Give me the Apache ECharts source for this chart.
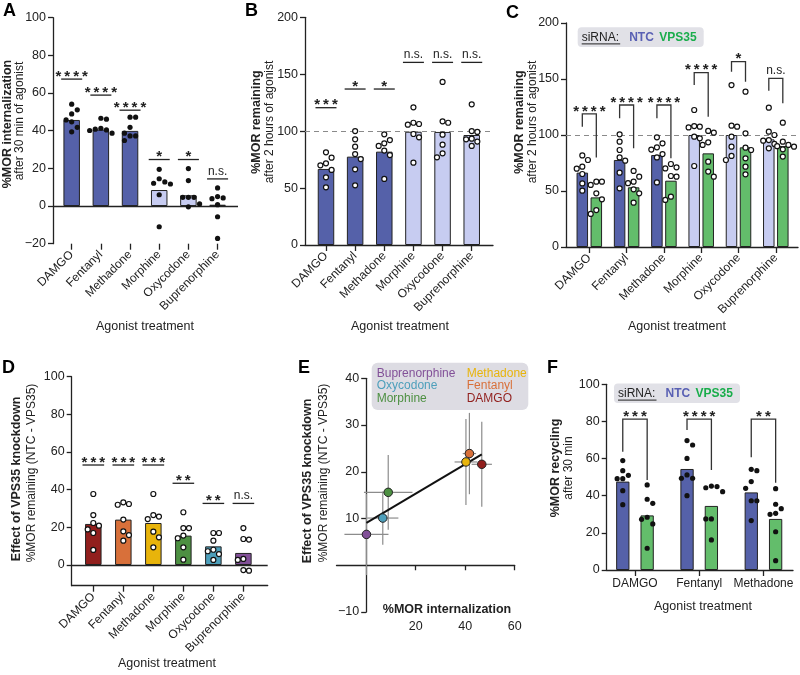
<!DOCTYPE html>
<html>
<head>
<meta charset="utf-8">
<title>MOR trafficking</title>
<script src="https://cdn.jsdelivr.net/npm/echarts@6/dist/echarts.min.js"></script>
<style>
  html, body { margin: 0; padding: 0; background: #fff; }
  #chart { width: 800px; height: 675px; }
</style>
</head>
<body>
<div id="chart"></div>
<script>
// ---- data ----
const agonists = ['DAMGO', 'Fentanyl', 'Methadone', 'Morphine', 'Oxycodone', 'Buprenorphine'];
const recyclingAgonists = ['DAMGO', 'Fentanyl', 'Methadone'];

// A: %MOR internalization after 30 min
const internalizationMean = [45.7, 40.6, 39.9, 8.5, 5.7, 0.7];
const internalizationPts = [
  [54.1, 51.1, 48.9, 45.7, 44.7, 41.8, 39.4],
  [46.6, 46.1, 41.3, 40.8, 40.4, 40.1, 38.7],
  [47.2, 47.2, 41.8, 38.7, 37.2, 37.2, 34.8],
  [19.5, 14.5, 12.8, 12.1, 11.7, 6.0, -11.0],
  [19.9, 13.5, 4.6, 4.6, 4.6, 1.1, -0.4],
  [9.6, 5.0, 4.3, 3.9, 0.7, -5.7, -17.2]
];
const internalizationSig = ['****', '****', '****', '*', '*', 'n.s.'];
const internalizationSigLevel = [67.4, 58.9, 50.9, 24.7, 24.7, 14.4];

// B: %MOR remaining after 2 h
const remainingMean = [66.8, 77.6, 82.0, 99.5, 99.3, 96.6];
const remainingPts = [
  [81.4, 76.7, 71.7, 70.0, 65.9, 59.4, 50.7],
  [100.1, 92.8, 86.4, 79.9, 75.5, 66.5, 52.4],
  [97.2, 92.2, 89.3, 87.0, 82.9, 79.0, 58.0],
  [120.9, 107.4, 106.3, 105.7, 97.5, 94.6, 72.3],
  [143.2, 108.6, 107.4, 96.9, 88.1, 80.5, 77.0],
  [123.6, 100.1, 99.3, 93.4, 92.8, 90.8, 87.0]
];
const remainingSig = ['***', '*', '*', 'n.s.', 'n.s.', 'n.s.'];
const remainingSigLevel = [120.6, 137, 137, 160.4, 160.4, 160.4];

// C: remaining, NTC vs VPS35 siRNA
const ntcRemainingMean = [66.4, 77.7, 82.1, 100.0, 100.0, 96.1];
const vpsRemainingMean = [44.3, 53.3, 59.2, 83.6, 89.0, 90.2];
const ntcRemainingPts = [
  [81.8, 77.7, 71.7, 69.9, 65.2, 56.8, 50.3],
  [100.6, 94.0, 86.6, 80.0, 77.1, 66.4, 52.4],
  [97.9, 92.6, 89.0, 87.0, 83.0, 80.0, 57.7],
  [122.3, 108.0, 107.4, 106.8, 98.5, 97.0, 72.3],
  [144.6, 108.3, 107.4, 98.5, 89.6, 81.3, 77.7],
  [124.4, 103.0, 100.0, 95.5, 94.9, 92.0, 88.1]
];
const vpsRemainingPts = [
  [58.3, 58.3, 55.4, 47.9, 42.6, 33.0, 29.5],
  [67.9, 62.8, 58.3, 57.0, 51.5, 47.9, 39.6],
  [74.1, 71.1, 70.2, 63.4, 62.8, 44.9, 42.0],
  [103.6, 102.1, 93.5, 91.1, 76.2, 67.3, 62.8],
  [138.7, 101.5, 88.7, 86.6, 79.2, 71.7, 64.9],
  [111.0, 94.0, 91.1, 90.0, 89.6, 87.2, 80.7]
];
const knockdownSig = ['****', '****', '****', '****', '*', 'n.s.'];
// [bracket top, NTC leg end, VPS35 leg end]
const knockdownBracket = [
  [118.8, 107.4, 80.0], [126.8, 114.9, 88.1], [126.8, 114.9, 79.2],
  [155.7, 144.6, 116.4], [165.5, 156.5, 147.6], [150.6, 139.6, 128.3]
];

// D: effect of VPS35 knockdown (NTC - VPS35)
const effectMean = [21.8, 24.1, 22.3, 15.6, 9.9, 6.4];
const effectPts = [
  [37.7, 26.5, 22.3, 20.9, 18.9, 17.0, 8.0],
  [33.3, 32.4, 32.0, 24.1, 17.9, 15.9, 12.9],
  [37.7, 26.5, 25.7, 24.4, 17.7, 14.7, 9.4],
  [28.0, 19.6, 19.6, 15.6, 14.2, 9.4, 2.8],
  [17.0, 17.0, 12.9, 8.1, 7.3, 5.8, 2.7],
  [19.6, 13.8, 13.5, 3.2, 2.7, -2.7, -3.0]
];
const effectSig = ['***', '***', '***', '**', '**', 'n.s.'];
const effectSigLevel = [53.1, 53.1, 53.1, 43.4, 32.7, 32.7];

// E: internalization vs knockdown effect (mean +/- SD), agonist order
const corrX = [46.7, 41.7, 40.3, 8.9, 6.7, 0.1];
const corrXSd = [4.1, 2.7, 4.6, 9.8, 6.3, 8.9];
const corrY = [21.6, 23.9, 22.1, 15.6, 10.1, 6.6];
const corrYSd = [9.1, 8.7, 9.2, 8.0, 5.7, 8.7];
const fitSlope = 0.314;
const fitIntercept = 9.05;

// F: %MOR recycling after 30 min
const ntcRecyclingMean = [47.6, 54.4, 41.8];
const vpsRecyclingMean = [29.4, 34.5, 27.5];
const ntcRecyclingPts = [
  [58.9, 53.5, 51.0, 49.2, 49.2, 42.7, 35.2],
  [69.7, 67.3, 60.1, 51.2, 49.4, 49.4, 40.0],
  [54.2, 53.5, 47.6, 44.0, 37.3, 37.3, 26.6]
];
const vpsRecyclingPts = [
  [45.8, 38.1, 35.9, 28.4, 27.3, 24.8, 11.7],
  [45.2, 44.9, 44.3, 42.2, 27.5, 27.5, 16.2],
  [43.8, 35.4, 33.0, 30.5, 30.0, 20.6, 5.0]
];
const recyclingSig = ['***', '****', '**'];
const recyclingBracket = [[81.3, 63.7, 48.5], [81.3, 75.4, 53.9], [81.3, 60.7, 47.0]];

// ---- styles ----
const FONT = '"Liberation Sans", Arial, Helvetica, sans-serif';
const INK = '#222';
const DARK_BLUE = '#5561a9';
const LAVENDER = '#c7ccf1';
const GREEN = '#63bd6b';
const NTC_TEXT = '#5960b4';
const VPS_TEXT = '#19ad4b';
const agonistColors = ['#911f1d', '#d8703a', '#e8b40b', '#4d9042', '#4d9fbb', '#825098'];
const SWARM_DX = 5.6;
const SWARM_DY = 7;
const fullAgonistColor = i => (i < 3 ? DARK_BLUE : LAVENDER);
const minus = v => String(v).replace('-', '\u2212');

const grids = [
  { left: 53, top: 17.7, width: 185, height: 226 },      // A
  { left: 305, top: 17.3, width: 188, height: 227.7 },   // B
  { left: 566, top: 23, width: 232, height: 224 },       // C
  { left: 71.7, top: 376.7, width: 196, height: 209 },   // D
  { left: 336.5, top: 378.3, width: 178.2, height: 233.7 }, // E
  { left: 606.7, top: 384.3, width: 186.3, height: 185.7 }  // F
];
const E_X = [-12, 60];

const axisLineStyle = { color: INK, width: 1.3 };

function catXAxis(gi, cats, min, max, rotate, showLine) {
  const idx = cats.map((_, i) => i);
  return {
    type: 'value', gridIndex: gi, min, max,
    axisLine: { show: showLine, onZero: false, lineStyle: axisLineStyle },
    axisTick: { show: true, length: 6, customValues: idx, lineStyle: axisLineStyle },
    axisLabel: {
      customValues: idx, formatter: v => cats[Math.round(v)] || '', rotate,
      color: INK, fontSize: 12, fontFamily: FONT, margin: rotate ? 9 : 8
    },
    splitLine: { show: false }
  };
}

function valYAxis(gi, min, max, interval, custom) {
  const ax = {
    type: 'value', gridIndex: gi, min, max,
    axisLine: { show: true, onZero: false, lineStyle: axisLineStyle },
    axisTick: { show: true, length: 5, lineStyle: axisLineStyle },
    axisLabel: { color: INK, fontSize: 12.5, fontFamily: FONT, margin: 7, formatter: minus },
    splitLine: { show: false }
  };
  if (custom) {
    ax.axisTick.customValues = custom;
    ax.axisLabel.customValues = custom;
  } else {
    ax.interval = interval;
  }
  return ax;
}

function barSeries(gi, means, colorOf, barWidth, barGap, markLine) {
  const s = {
    type: 'bar', xAxisIndex: gi, yAxisIndex: gi, barWidth, silent: true, z: 2,
    data: means.map((v, i) => ({ value: [i, v], itemStyle: { color: colorOf(i) } })),
    itemStyle: { borderColor: INK, borderWidth: 1 }
  };
  if (barGap) s.barGap = barGap;
  if (markLine) s.markLine = markLine;
  return s;
}

function refLine(value, dashed) {
  return {
    silent: true, symbol: 'none', label: { show: false },
    lineStyle: dashed ? { color: '#8a8a8a', width: 1.2, type: [5, 4] } : { color: INK, width: 1.3, type: 'solid' },
    data: [{ yAxis: value }]
  };
}

function swarmSeries(gi, groups, shiftPx, open) {
  return {
    type: 'custom', xAxisIndex: gi, yAxisIndex: gi, silent: true, clip: false, z: 5,
    data: groups.map((_, i) => [i]),
    renderItem: function (params, api) {
      const i = api.value(0);
      const cx = api.coord([i, 0])[0] + shiftPx;
      const placed = [];
      let side = 1;
      const children = groups[i].map(function (v) {
        const cy = api.coord([i, v])[1];
        const fits = dx => placed.every(p =>
          Math.pow((p[0] - dx) / SWARM_DX, 2) + Math.pow((p[1] - cy) / SWARM_DY, 2) >= 0.999);
        let dx = 0;
        if (!fits(0)) {
          for (let k = 1; k < 8; k++) {
            if (fits(side * k * SWARM_DX)) { dx = side * k * SWARM_DX; break; }
            if (fits(-side * k * SWARM_DX)) { dx = -side * k * SWARM_DX; break; }
          }
          side = dx > 0 ? -1 : 1;
        }
        placed.push([dx, cy]);
        return {
          type: 'circle', shape: { cx: cx + dx, cy, r: open ? 2.5 : 2.6 },
          style: open ? { fill: '#fff', stroke: '#111', lineWidth: 1.2 } : { fill: '#111' }
        };
      });
      return { type: 'group', children };
    }
  };
}

function sigLabel(x, y, txt) {
  const ns = txt === 'n.s.';
  return {
    type: 'text', x, y: ns ? y - 1.5 : y + 5,
    style: {
      text: ns ? txt : txt.split('').join('\u2009'), fill: INK,
      font: (ns ? '12px ' : 'bold 15px ') + FONT, align: 'center', verticalAlign: 'bottom'
    }
  };
}

function sigSeries(gi, labels, levels, half) {
  return {
    type: 'custom', xAxisIndex: gi, yAxisIndex: gi, silent: true, clip: false, z: 6,
    data: levels.map((v, i) => [i, v]),
    renderItem: function (params, api) {
      const i = api.value(0);
      const a = api.coord([i - half, api.value(1)]);
      const b = api.coord([i + half, api.value(1)]);
      return {
        type: 'group', children: [
          { type: 'line', shape: { x1: a[0], y1: a[1], x2: b[0], y2: b[1] }, style: { stroke: INK, lineWidth: 1.3 } },
          sigLabel((a[0] + b[0]) / 2, a[1], labels[i])
        ]
      };
    }
  };
}

function bracketSeries(gi, labels, levels, legPx) {
  return {
    type: 'custom', xAxisIndex: gi, yAxisIndex: gi, silent: true, clip: false, z: 6,
    data: levels.map((l, i) => [i, l[0], l[1], l[2]]),
    renderItem: function (params, api) {
      const i = api.value(0);
      const xc = api.coord([i, 0])[0];
      const top = api.coord([i, api.value(1)])[1];
      const left = api.coord([i, api.value(2)])[1];
      const right = api.coord([i, api.value(3)])[1];
      return {
        type: 'group', children: [
          {
            type: 'polyline',
            shape: { points: [[xc - legPx, left], [xc - legPx, top], [xc + legPx, top], [xc + legPx, right]] },
            style: { stroke: '#333', lineWidth: 1.3, fill: 'none' }
          },
          sigLabel(xc, top, labels[i])
        ]
      };
    }
  };
}

// ---- text decorations ----
function vText(x, y, text, bold) {
  return {
    type: 'text', x, y, rotation: Math.PI / 2, silent: true,
    style: { text, fill: INK, font: (bold ? 'bold 12.5px ' : '12px ') + FONT, align: 'center', verticalAlign: 'middle' }
  };
}
function hText(x, y, text, font, fill, align) {
  return {
    type: 'text', x, y, silent: true,
    style: { text, fill: fill || INK, font: font + ' ' + FONT, align: align || 'center', verticalAlign: 'middle' }
  };
}
function sirnaKey(x, y) {
  return [
    { type: 'rect', x, y, shape: { width: 126, height: 19.6, r: 4 }, style: { fill: '#e1e1e7' }, silent: true },
    hText(x + 4, y + 10.2, 'siRNA:', '12px', INK, 'left'),
    { type: 'line', shape: { x1: x + 4, y1: y + 16.6, x2: x + 42.5, y2: y + 16.6 }, style: { stroke: INK, lineWidth: 1 }, silent: true },
    hText(x + 51.5, y + 10.2, 'NTC', 'bold 12px', NTC_TEXT, 'left'),
    hText(x + 81.5, y + 10.2, 'VPS35', 'bold 12px', VPS_TEXT, 'left')
  ];
}

const graphic = [];
[['A', 3, 2], ['B', 245, 2], ['C', 506, 4], ['D', 2, 359], ['E', 298, 359], ['F', 547, 359]].forEach(p => {
  graphic.push({ type: 'text', x: p[1], y: p[2], silent: true,
    style: { text: p[0], fill: '#000', font: 'bold 18px ' + FONT, align: 'left', verticalAlign: 'top' } });
});
graphic.push(
  vText(7.5, 124, '%MOR internalization', true), vText(20, 121, 'after 30 min of agonist', false),
  vText(257, 122, '%MOR remaining', true), vText(269.5, 122, 'after 2 hours of agonist', false),
  vText(520, 122, '%MOR remaining', true), vText(532.5, 122, 'after 2 hours of agonist', false),
  vText(17, 479, 'Effect of VPS35 knockdown', true), vText(32, 473, '%MOR remaining (NTC - VPS35)', false),
  vText(308, 481, 'Effect of VPS35 knockdown', true), vText(324, 473, '%MOR remaining (NTC - VPS35)', false),
  vText(556, 468, '%MOR recycling', true), vText(569, 468, 'after 30 min', false),
  hText(145, 327, 'Agonist treatment', '12.5px'),
  hText(400, 327, 'Agonist treatment', '12.5px'),
  hText(677, 327, 'Agonist treatment', '12.5px'),
  hText(167, 664, 'Agonist treatment', '12.5px'),
  hText(703, 607, 'Agonist treatment', '12.5px'),
  hText(447, 610, '%MOR internalization', 'bold 12.5px')
);
graphic.push(...sirnaKey(577.7, 27.3), ...sirnaKey(614, 383.5));
// E key
graphic.push({ type: 'rect', x: 371.7, y: 362.7, shape: { width: 156.6, height: 47.3, r: 6 }, style: { fill: '#dddce3' }, silent: true });
agonists.slice().reverse().forEach((name, k) => {
  const ai = agonists.indexOf(name);
  graphic.push(hText(k < 3 ? 376.7 : 466.7, 373.5 + (k % 3) * 12.5, name, '12px', agonistColors[ai], 'left'));
});

// ---- chart ----
const fitX = [Math.min(...corrX), Math.max(...corrX)];
// E's y axis crosses the x axis at x = 0 (only one axis can use onZero)
const eYAxis = valYAxis(4, -10, 40, null, [-10, 10, 20, 30, 40]);
eYAxis.offset = -grids[4].width * (0 - E_X[0]) / (E_X[1] - E_X[0]);

const option = {
  animation: false,
  backgroundColor: '#fff',
  textStyle: { fontFamily: FONT },
  grid: grids,
  xAxis: [
    catXAxis(0, agonists, -0.64, 5.70, 45, false),
    catXAxis(1, agonists, -0.72, 5.73, 45, true),
    catXAxis(2, agonists, -0.625, 5.595, 45, true),
    catXAxis(3, agonists, -0.72, 5.81, 45, true),
    {
      type: 'value', gridIndex: 4, min: E_X[0], max: E_X[1],
      axisLine: { show: true, onZero: true, lineStyle: axisLineStyle },
      axisTick: { show: true, length: 5, customValues: [20, 40, 60], lineStyle: axisLineStyle },
      axisLabel: { customValues: [20, 40, 60], color: INK, fontSize: 12.5, fontFamily: FONT, margin: 8 },
      splitLine: { show: false }
    },
    catXAxis(5, recyclingAgonists, -0.44, 2.46, 0, true)
  ],
  yAxis: [
    valYAxis(0, -20, 100, 20),
    valYAxis(1, 0, 200, 50),
    valYAxis(2, 0, 200, 50),
    valYAxis(3, -11, 100, null, [0, 20, 40, 60, 80, 100]),
    eYAxis,
    valYAxis(5, 0, 100, 20)
  ],
  series: [
    // A
    barSeries(0, internalizationMean, fullAgonistColor, 16.5, null, refLine(0, false)),
    swarmSeries(0, internalizationPts, 0, false),
    sigSeries(0, internalizationSig, internalizationSigLevel, 0.36),
    // B
    barSeries(1, remainingMean, fullAgonistColor, 16.5, null, refLine(100, true)),
    swarmSeries(1, remainingPts, 0, true),
    sigSeries(1, remainingSig, remainingSigLevel, 0.36),
    // C
    barSeries(2, ntcRemainingMean, fullAgonistColor, 11.5, '22%', refLine(100, true)),
    barSeries(2, vpsRemainingMean, () => GREEN, 11.5, '22%'),
    swarmSeries(2, ntcRemainingPts, -7, true),
    swarmSeries(2, vpsRemainingPts, 7, true),
    bracketSeries(2, knockdownSig, knockdownBracket, 7),
    // D
    barSeries(3, effectMean, i => agonistColors[i], 16.5, null, refLine(0, false)),
    swarmSeries(3, effectPts, 0, true),
    sigSeries(3, effectSig, effectSigLevel, 0.36),
    // E
    {
      type: 'custom', xAxisIndex: 4, yAxisIndex: 4, silent: true, z: 2,
      data: corrX.map((x, i) => [x, corrY[i], corrXSd[i], corrYSd[i]]),
      renderItem: function (params, api) {
        const x = api.value(0), y = api.value(1), sx = api.value(2), sy = api.value(3);
        const h1 = api.coord([x - sx, y]), h2 = api.coord([x + sx, y]);
        const v1 = api.coord([x, y - sy]), v2 = api.coord([x, y + sy]);
        const st = { stroke: '#8c8c8c', lineWidth: 1.2 };
        return {
          type: 'group', children: [
            { type: 'line', shape: { x1: h1[0], y1: h1[1], x2: h2[0], y2: h2[1] }, style: st },
            { type: 'line', shape: { x1: v1[0], y1: v1[1], x2: v2[0], y2: v2[1] }, style: st }
          ]
        };
      }
    },
    {
      type: 'line', xAxisIndex: 4, yAxisIndex: 4, silent: true, z: 3, symbol: 'none',
      lineStyle: { color: '#111', width: 2 },
      data: fitX.map(x => [x, fitIntercept + fitSlope * x])
    },
    {
      type: 'scatter', xAxisIndex: 4, yAxisIndex: 4, silent: true, z: 4, symbolSize: 8.5,
      itemStyle: { borderColor: '#222', borderWidth: 1, opacity: 1 },
      data: corrX.map((x, i) => ({ value: [x, corrY[i]], itemStyle: { color: agonistColors[i] } }))
    },
    // F
    barSeries(5, ntcRecyclingMean, () => DARK_BLUE, 13.3, '83%'),
    barSeries(5, vpsRecyclingMean, () => GREEN, 13.3, '83%'),
    swarmSeries(5, ntcRecyclingPts, -12.2, false),
    swarmSeries(5, vpsRecyclingPts, 12.2, false),
    bracketSeries(5, recyclingSig, recyclingBracket, 12.2)
  ],
  graphic
};

const chart = echarts.init(document.getElementById('chart'), null, { renderer: 'canvas' });
chart.setOption(option);
</script>
</body>
</html>
